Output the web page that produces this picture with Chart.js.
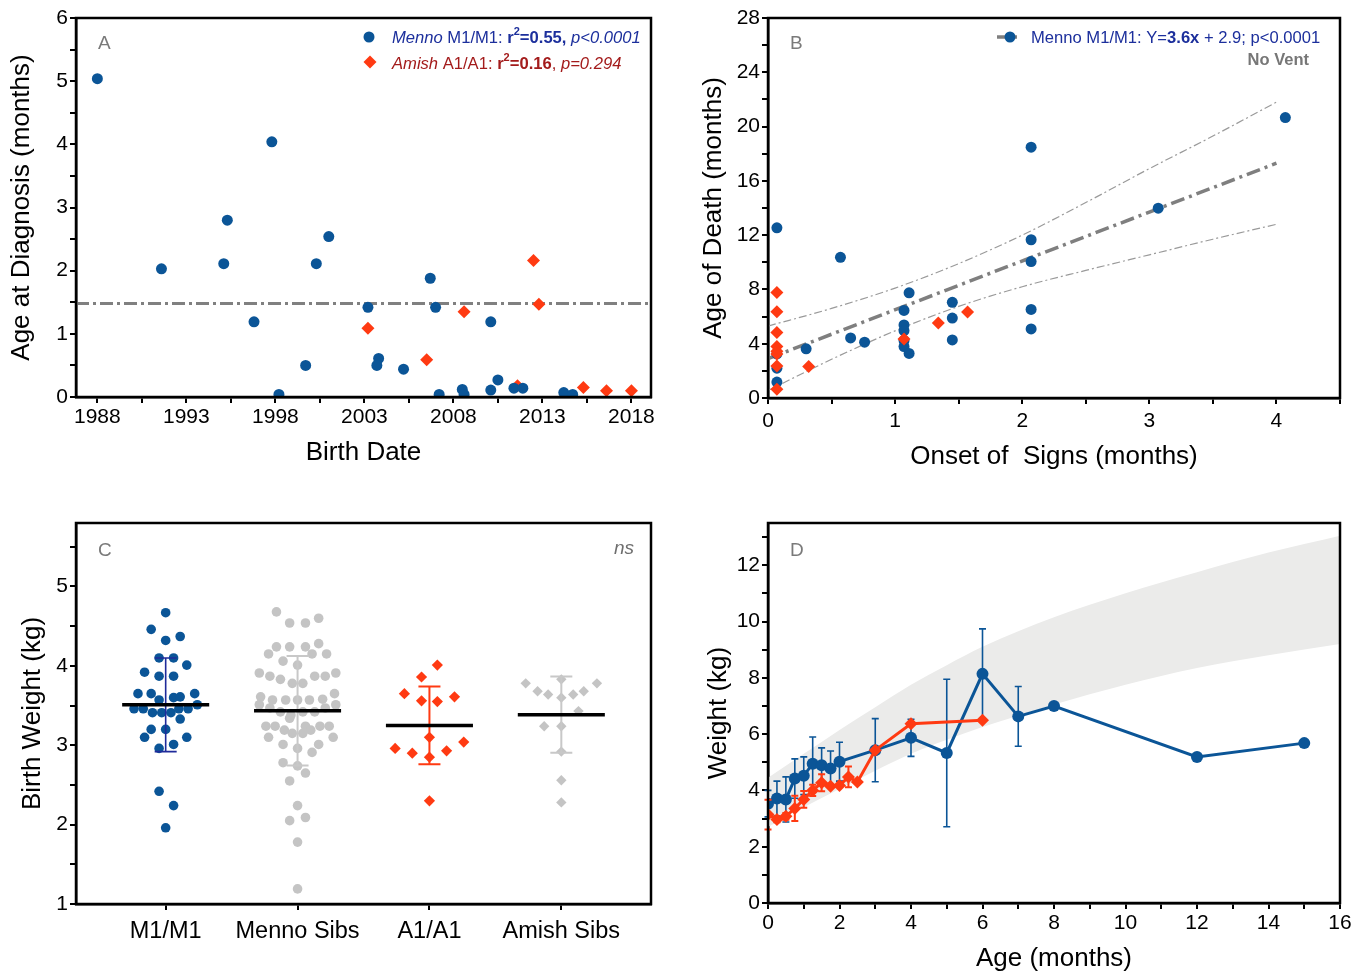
<!DOCTYPE html>
<html>
<head>
<meta charset="utf-8">
<script src="https://cdn.jsdelivr.net/npm/chart.js@4.4.1/dist/chart.umd.min.js"></script>
<style>
  html, body { margin: 0; background: #fff; }
  body { width: 1360px; height: 974px; position: relative; overflow: hidden; }
  canvas { position: absolute; }
</style>
</head>
<body>
<canvas id="chA" width="680" height="480" style="left:0;top:0"></canvas>
<canvas id="chB" width="670" height="480" style="left:690px;top:0"></canvas>
<canvas id="chC" width="680" height="484" style="left:0;top:490px"></canvas>
<canvas id="chD" width="670" height="484" style="left:690px;top:490px"></canvas>
<script>
// ---- panel A: age at diagnosis vs birth date
const aMennoYear = [1988.0, 1991.6, 1995.1, 1995.3, 1996.8, 1997.8, 1998.2, 1999.7, 2000.3, 2001.0, 2003.2, 2003.8, 2003.7,
  2005.2, 2006.7, 2007.0, 2007.2, 2008.5, 2008.6, 2010.1, 2010.1, 2010.5, 2011.4, 2011.9, 2014.2, 2014.7];
const aMennoAge = [5.04, 2.03, 2.11, 2.80, 1.19, 4.04, 0.04, 0.50, 2.11, 2.54, 1.42, 0.61, 0.50,
  0.44, 1.88, 1.42, 0.04, 0.12, 0.04, 1.19, 0.11, 0.27, 0.14, 0.14, 0.07, 0.04];
const aAmishYear = [2003.2, 2006.5, 2008.6, 2011.6, 2012.5, 2012.8, 2015.3, 2016.6, 2018.0];
const aAmishAge = [1.09, 0.59, 1.35, 0.18, 2.16, 1.47, 0.15, 0.10, 0.10];
const aCutoff = 1.48;
const aXLabels = [1988, 1993, 1998, 2003, 2008, 2013, 2018];
const aYLabels = [0, 1, 2, 3, 4, 5, 6];

// ---- panel B: age of death vs onset of signs
const bMennoOnset = [0.07, 0.07, 0.07, 0.07, 0.30, 0.57, 0.65, 0.76, 1.07, 1.07, 1.07, 1.07, 1.07, 1.11, 1.11,
  1.45, 1.45, 1.45, 2.07, 2.07, 2.07, 2.07, 2.07, 3.07, 4.07];
const bMennoDeath = [12.54, 3.25, 2.2, 1.17, 3.62, 10.37, 4.43, 4.11, 6.45, 5.38, 4.96, 4.23, 3.79, 7.75, 3.28,
  7.05, 5.89, 4.28, 18.48, 11.66, 10.05, 6.53, 5.09, 13.99, 20.66];
const bAmishOnset = [0.07, 0.07, 0.07, 0.07, 0.07, 0.07, 0.07, 0.07, 0.32, 1.07, 1.34, 1.57];
const bAmishDeath = [7.78, 6.36, 4.82, 3.79, 3.45, 3.25, 2.35, 0.64, 2.32, 4.35, 5.53, 6.33];
const bFitX = [0, 4];
const bFitY = [2.9, 17.3];
const bBandX = [0, 0.5, 1, 1.5, 2, 2.5, 3, 3.5, 4];
const bUpper = [5.3, 6.6, 8.1, 9.9, 12.0, 14.4, 16.9, 19.3, 21.8];
const bLower = [0.55, 2.85, 4.95, 6.75, 8.2, 9.4, 10.55, 11.7, 12.8];
const bXLabels = [0, 1, 2, 3, 4];
const bYLabels = [0, 4, 8, 12, 16, 20, 24, 28];

// ---- panel C: birth weight by group
const cCategories = ['M1/M1', 'Menno Sibs', 'A1/A1', 'Amish Sibs'];
const cM1Off = [0, -0.11, 0, 0.11, -0.05, 0.06, 0.16, -0.16, -0.05, 0.06, -0.21, -0.11, 0.22, -0.05, 0.06, 0.11, 0.24,
  -0.24, -0.17, -0.1, -0.03, 0.04, 0.1, 0.17, 0.11, -0.11, 0, -0.16, 0.16, -0.05, 0.06, -0.05, 0.06, 0];
const cM1Wt = [4.67, 4.46, 4.32, 4.37, 4.10, 4.10, 4.01, 3.92, 3.87, 3.87, 3.65, 3.65, 3.65, 3.57, 3.60, 3.61, 3.51,
  3.46, 3.46, 3.41, 3.41, 3.41, 3.46, 3.46, 3.33, 3.20, 3.20, 3.10, 3.10, 2.96, 3.01, 2.42, 2.24, 1.96];
const cMennoSibOff = [-0.16, -0.06, 0.06, 0.16, -0.16, -0.06, 0.06, 0.16, -0.22, 0.11, 0.22, -0.11, 0, -0.29, -0.21,
  -0.13, -0.04, 0.04, 0.13, 0.21, 0.29, -0.28, 0.28, -0.29, -0.19, -0.09, 0, 0.09, 0.19, 0.29, -0.21, -0.13, -0.05,
  0.04, 0.13, 0.21, -0.06, -0.24, -0.17, -0.1, -0.04, 0.04, 0.06, 0.1, 0.17, 0.24, -0.22, 0.27, -0.11, 0.16, 0, 0.11,
  -0.11, 0, 0.06, -0.06, 0, -0.06, 0.06, 0, 0];
const cMennoSibWt = [4.68, 4.54, 4.54, 4.60, 4.24, 4.24, 4.24, 4.28, 4.15, 4.15, 4.15, 4.06, 4.01, 3.91, 3.87,
  3.83, 3.78, 3.78, 3.87, 3.87, 3.91, 3.61, 3.65, 3.51, 3.57, 3.57, 3.57, 3.57, 3.58, 3.51, 3.47, 3.42, 3.38,
  3.42, 3.42, 3.47, 3.34, 3.24, 3.24, 3.19, 3.15, 3.15, 3.24, 3.19, 3.24, 3.24, 3.10, 3.10, 3.01, 3.01, 2.96, 2.91,
  2.78, 2.74, 2.65, 2.55, 2.24, 2.05, 2.09, 1.78, 1.19];
const cA1Off = [0.06, -0.06, -0.19, -0.06, 0.06, 0.19, 0, -0.26, -0.13, 0, 0.13, 0.26, 0];
const cA1Wt = [4.01, 3.86, 3.65, 3.56, 3.55, 3.61, 3.10, 2.96, 2.90, 2.85, 2.93, 3.04, 2.30];
const cAmishSibOff = [-0.27, -0.18, -0.1, 0, 0, 0.09, 0.17, 0.27, 0.13, -0.13, 0, 0, 0, 0];
const cAmishSibWt = [3.78, 3.68, 3.64, 3.83, 3.60, 3.64, 3.68, 3.78, 3.43, 3.24, 3.24, 2.92, 2.56, 2.28];
const cMeans = [3.51, 3.435, 3.25, 3.385];
const cSD = [0.59, 0.69, 0.49, 0.48];
const cYLabels = [1, 2, 3, 4, 5];

// ---- panel D: weight by age, with reference band
const dMennoAge = [0, 0.25, 0.5, 0.75, 1, 1.25, 1.5, 1.75, 2, 3, 4, 5, 6, 7, 8, 12, 15];
const dMennoWt = [3.53, 3.71, 3.68, 4.42, 4.52, 4.95, 4.89, 4.78, 5.02, 5.43, 5.87, 5.33, 8.14, 6.63, 7.0, 5.19, 5.68];
const dMennoSD = [0.47, 0.62, 0.8, 0.7, 0.67, 0.95, 0.62, 0.62, 0.69, 1.12, 0.66, 2.62, 1.6, 1.06, 0, 0, 0];
const dAmishAge = [0, 0.25, 0.5, 0.75, 1, 1.25, 1.5, 1.75, 2, 2.25, 2.5, 3, 4, 6];
const dAmishWt = [3.14, 2.97, 3.08, 3.36, 3.68, 4.0, 4.27, 4.15, 4.17, 4.48, 4.3, 5.43, 6.37, 6.49];
const dAmishSD = [0.53, 0.1, 0.12, 0.45, 0.3, 0.2, 0.3, 0.05, 0.05, 0.37, 0, 0, 0, 0];
const dBandAge = [0, 1, 2, 3, 4, 5, 6, 7, 8, 10, 12, 14, 16];
const dBandLow = [2.7, 3.4, 4.05, 4.7, 5.3, 5.8, 6.25, 6.65, 7.05, 7.75, 8.35, 8.8, 9.2];
const dBandHigh = [4.45, 5.3, 6.15, 6.95, 7.75, 8.45, 9.1, 9.65, 10.15, 11.0, 11.75, 12.45, 13.05];
const dXLabels = [0, 2, 4, 6, 8, 10, 12, 14, 16];
const dYLabels = [0, 2, 4, 6, 8, 10, 12];

const FONT = "'Liberation Sans', Arial, Helvetica, sans-serif";
const BLUE = '#0b5597';
const RED = '#ff3a12';
const LGRAY = '#c4c4c4';

Chart.defaults.font.family = FONT;
Chart.defaults.font.size = 21;
Chart.defaults.color = '#000';

const pts = (xs, ys) => xs.map((x, i) => ({ x, y: ys[i] }));
const jitter = (cat, offs, ys) => offs.map((o, i) => ({ x: cat + o, y: ys[i] }));

// tick positions every `step` from first label; only listed labels get text
function axis(o) {
  const ticks = [];
  for (let v = o.labels[0]; v <= o.max + 1e-9; v += o.step) ticks.push(+v.toFixed(4));
  return {
    type: 'linear', position: o.pos, min: o.min, max: o.max,
    border: { display: true, color: '#000', width: 2.5 },
    grid: { display: true, drawOnChartArea: false, drawTicks: true, tickLength: 6, color: '#000', lineWidth: 2 },
    ticks: {
      autoSkip: false, maxRotation: 0, padding: o.tickPad || 2, color: '#000',
      font: { size: o.fontSize || 21 },
      callback: o.fmt || (v => o.labels.includes(v) ? String(v) : '')
    },
    title: o.title ? { display: true, text: o.title, color: '#000', font: { size: 26 }, padding: o.titlePad } : { display: false },
    afterBuildTicks: s => { s.ticks = (o.tickList || ticks).map(v => ({ value: v })) },
    afterFit: s => { if (o.pos === 'left') s.width = o.size; else s.height = o.size }
  };
}

function baseOptions(pad, scales) {
  return {
    responsive: false, animation: false, events: [],
    layout: { padding: pad },
    plugins: { legend: { display: false }, tooltip: { enabled: false } },
    scales
  };
}

function frame(chart) {
  const { ctx, chartArea: a } = chart;
  ctx.save();
  ctx.strokeStyle = '#000';
  ctx.lineWidth = 2.5;
  ctx.strokeRect(a.left, a.top, a.right - a.left, a.bottom - a.top);
  ctx.restore();
}

function panelLetter(chart, letter) {
  const { ctx, chartArea: a } = chart;
  ctx.save();
  ctx.font = '19px ' + FONT;
  ctx.fillStyle = '#7a7a7a';
  ctx.textBaseline = 'middle';
  ctx.fillText(letter, a.left + 22, a.top + (letter === 'A' || letter === 'B' ? 26 : 28));
  ctx.restore();
}

// mixed-style text; segs = [text, style] with i=italic b=bold s=superscript
function rich(ctx, x, y, segs, size, color, align) {
  const f = st => (st.includes('i') ? 'italic ' : '') + (st.includes('b') ? 'bold ' : '') +
    (st.includes('s') ? Math.round(size * 0.65) : size) + 'px ' + FONT;
  let w = 0;
  segs.forEach(([t, st]) => { ctx.font = f(st); w += ctx.measureText(t).width; });
  let cx = align === 'right' ? x - w : x;
  ctx.fillStyle = color;
  ctx.textBaseline = 'middle';
  ctx.textAlign = 'left';
  segs.forEach(([t, st]) => {
    ctx.font = f(st);
    ctx.fillText(t, cx, st.includes('s') ? y - size * 0.35 : y);
    cx += ctx.measureText(t).width;
  });
}

function marker(ctx, x, y, style, r, color) {
  ctx.fillStyle = color;
  ctx.beginPath();
  if (style === 'circle') ctx.arc(x, y, r, 0, Math.PI * 2);
  else { ctx.moveTo(x - r, y); ctx.lineTo(x, y - r); ctx.lineTo(x + r, y); ctx.lineTo(x, y + r); ctx.closePath(); }
  ctx.fill();
}

// ================= A =================
new Chart(document.getElementById('chA'), {
  type: 'scatter',
  data: {
    datasets: [
      { data: pts(aMennoYear, aMennoAge), pointStyle: 'circle', pointRadius: 5.5, pointBorderWidth: 0, backgroundColor: BLUE },
      { data: pts(aAmishYear, aAmishAge), pointStyle: 'rectRot', pointRadius: 6.5, pointBorderWidth: 0, backgroundColor: RED }
    ]
  },
  options: baseOptions({ left: 0, right: 29, top: 18, bottom: 0 }, {
    x: axis({ pos: 'bottom', min: 1986.8, max: 2019.1, step: 2.5, labels: aXLabels, size: 83,
      title: 'Birth Date', titlePad: { top: 0, bottom: 12 } }),
    y: axis({ pos: 'left', min: 0, max: 6, step: 0.5, labels: aYLabels, size: 76,
      title: 'Age at Diagnosis (months)', titlePad: { top: 6, bottom: 0 } })
  }),
  plugins: [{
    id: 'panelA',
    beforeDatasetsDraw(chart) {
      const { ctx, chartArea: a, scales } = chart;
      const y = scales.y.getPixelForValue(aCutoff);
      ctx.save();
      ctx.strokeStyle = '#808080';
      ctx.lineWidth = 3;
      ctx.setLineDash([13, 4, 3, 4]);
      ctx.beginPath(); ctx.moveTo(a.left, y); ctx.lineTo(a.right, y); ctx.stroke();
      ctx.restore();
    },
    afterDraw(chart) {
      const ctx = chart.ctx;
      frame(chart);
      panelLetter(chart, 'A');
      ctx.save();
      marker(ctx, 369, 37, 'circle', 5.5, BLUE);
      marker(ctx, 370, 62, 'diamond', 6.5, RED);
      rich(ctx, 392, 38, [['Menno', 'i'], [' M1/M1: ', ''], ['r', 'b'], ['2', 'bs'], ['=0.55,', 'b'], [' p<0.0001', 'i']], 16.6, '#1c2f9c');
      rich(ctx, 392, 64, [['Amish', 'i'], [' A1/A1: ', ''], ['r', 'b'], ['2', 'bs'], ['=0.16', 'b'], [', ', ''], ['p=0.294', 'i']], 16.6, '#a31b1b');
      ctx.restore();
    }
  }]
});

// ================= B =================
const thinDash = { showLine: true, borderColor: '#9a9a9a', borderWidth: 1.2, borderDash: [8, 3, 2, 3], pointRadius: 0, tension: 0.4, cubicInterpolationMode: 'monotone', order: 5 };
new Chart(document.getElementById('chB'), {
  type: 'scatter',
  data: {
    datasets: [
      { data: pts(bMennoOnset, bMennoDeath), pointStyle: 'circle', pointRadius: 5.5, pointBorderWidth: 0, backgroundColor: BLUE, order: 2 },
      { data: pts(bAmishOnset, bAmishDeath), pointStyle: 'rectRot', pointRadius: 6.5, pointBorderWidth: 0, backgroundColor: RED, order: 1 },
      { data: pts(bFitX, bFitY), showLine: true, borderColor: '#7f7f7f', borderWidth: 3.5, borderDash: [14, 5, 3, 5], pointRadius: 0, order: 4 },
      Object.assign({ data: pts(bBandX, bUpper) }, thinDash),
      Object.assign({ data: pts(bBandX, bLower) }, thinDash)
    ]
  },
  options: baseOptions({ left: 0, right: 20, top: 18, bottom: 0 }, {
    x: axis({ pos: 'bottom', min: 0, max: 4.5, step: 0.5, labels: bXLabels, size: 82, tickPad: 5,
      title: 'Onset of  Signs (months)', titlePad: { top: 0, bottom: 8 } }),
    y: axis({ pos: 'left', min: 0, max: 28, step: 2, labels: bYLabels, size: 78,
      title: 'Age of Death (months)', titlePad: { top: 8, bottom: 0 } })
  }),
  plugins: [{
    id: 'panelB',
    afterDraw(chart) {
      const ctx = chart.ctx;
      frame(chart);
      panelLetter(chart, 'B');
      ctx.save();
      ctx.strokeStyle = '#7f7f7f';
      ctx.lineWidth = 3.5;
      ctx.beginPath(); ctx.moveTo(307, 37); ctx.lineTo(327, 37); ctx.stroke();
      marker(ctx, 320, 37, 'circle', 5.5, BLUE);
      rich(ctx, 341, 38, [['Menno M1/M1: Y=', ''], ['3.6x', 'b'], [' + 2.9; p<0.0001', '']], 16.6, '#1c2f9c');
      rich(ctx, 619, 60, [['No Vent', 'b']], 16.5, '#777777', 'right');
      ctx.restore();
    }
  }]
});

// ================= C =================
const cColors = [BLUE, LGRAY, RED, LGRAY];
const cBarColors = ['#1f2a9a', '#c8c8c8', RED, '#c8c8c8'];
new Chart(document.getElementById('chC'), {
  type: 'scatter',
  data: {
    datasets: [
      { data: jitter(1, cM1Off, cM1Wt), pointStyle: 'circle', pointRadius: 4.8, pointBorderWidth: 0, backgroundColor: cColors[0] },
      { data: jitter(2, cMennoSibOff, cMennoSibWt), pointStyle: 'circle', pointRadius: 4.8, pointBorderWidth: 0, backgroundColor: cColors[1] },
      { data: jitter(3, cA1Off, cA1Wt), pointStyle: 'rectRot', pointRadius: 5.6, pointBorderWidth: 0, backgroundColor: cColors[2] },
      { data: jitter(4, cAmishSibOff, cAmishSibWt), pointStyle: 'rectRot', pointRadius: 5.2, pointBorderWidth: 0, backgroundColor: cColors[3] }
    ]
  },
  options: baseOptions({ left: 0, right: 29, top: 33, bottom: 0 }, {
    x: axis({ pos: 'bottom', min: 0.32, max: 4.68, step: 1, labels: [1, 2, 3, 4], tickList: [1, 2, 3, 4], size: 70,
      fontSize: 23.5, tickPad: 7, fmt: v => cCategories[v - 1] || '' }),
    y: axis({ pos: 'left', min: 1, max: 5.8, step: 0.5, labels: cYLabels, size: 76,
      title: 'Birth Weight (kg)', titlePad: { top: 17, bottom: 0 } })
  }),
  plugins: [{
    id: 'panelC',
    afterDatasetsDraw(chart) {
      const { ctx, scales: { x, y } } = chart;
      ctx.save();
      cMeans.forEach((m, i) => {
        const cx = x.getPixelForValue(i + 1);
        const top = y.getPixelForValue(m + cSD[i]);
        const bot = y.getPixelForValue(m - cSD[i]);
        ctx.strokeStyle = cBarColors[i];
        ctx.lineWidth = i === 0 ? 1.6 : 2;
        ctx.beginPath();
        ctx.moveTo(cx, top); ctx.lineTo(cx, bot);
        ctx.moveTo(cx - 11, top); ctx.lineTo(cx + 11, top);
        ctx.moveTo(cx - 11, bot); ctx.lineTo(cx + 11, bot);
        ctx.stroke();
        const my = y.getPixelForValue(m);
        ctx.strokeStyle = '#000';
        ctx.lineWidth = 3.5;
        ctx.beginPath();
        ctx.moveTo(x.getPixelForValue(i + 1 - 0.33), my);
        ctx.lineTo(x.getPixelForValue(i + 1 + 0.33), my);
        ctx.stroke();
      });
      ctx.restore();
    },
    afterDraw(chart) {
      const ctx = chart.ctx;
      frame(chart);
      panelLetter(chart, 'C');
      ctx.save();
      ctx.font = 'italic 19px ' + FONT;
      ctx.fillStyle = '#6e6e6e';
      ctx.textAlign = 'right';
      ctx.textBaseline = 'middle';
      ctx.fillText('ns', 634, 59);
      ctx.restore();
    }
  }]
});

// ================= D =================
const dErr = { 2: { sd: dMennoSD, color: BLUE, w: 1.6 }, 3: { sd: dAmishSD, color: RED, w: 2 } };
new Chart(document.getElementById('chD'), {
  type: 'scatter',
  data: {
    datasets: [
      { data: pts(dBandAge, dBandLow), showLine: true, borderWidth: 0, borderColor: 'rgba(0,0,0,0)', pointRadius: 0, fill: false,
        tension: 0.4, cubicInterpolationMode: 'monotone', order: 4 },
      { data: pts(dBandAge, dBandHigh), showLine: true, borderWidth: 0, borderColor: 'rgba(0,0,0,0)', pointRadius: 0, fill: '-1',
        backgroundColor: '#ebebea', tension: 0.4, cubicInterpolationMode: 'monotone', order: 3 },
      { data: pts(dMennoAge, dMennoWt), showLine: true, borderColor: BLUE, borderWidth: 3, pointStyle: 'circle', pointRadius: 6,
        pointBorderWidth: 0, backgroundColor: BLUE, order: 1 },
      { data: pts(dAmishAge, dAmishWt), showLine: true, borderColor: RED, borderWidth: 3, pointStyle: 'rectRot', pointRadius: 6.5,
        pointBorderWidth: 0, backgroundColor: RED, order: 0 }
    ]
  },
  options: baseOptions({ left: 0, right: 20, top: 33, bottom: 0 }, {
    x: axis({ pos: 'bottom', min: 0, max: 16, step: 1, labels: dXLabels, size: 71,
      title: 'Age (months)', titlePad: { top: 0, bottom: 0 } }),
    y: axis({ pos: 'left', min: 0, max: 13.5, step: 1, labels: dYLabels, size: 78,
      title: 'Weight (kg)', titlePad: { top: 13, bottom: 0 } })
  }),
  plugins: [{
    id: 'panelD',
    beforeDatasetDraw(chart, args) {
      const e = dErr[args.index];
      if (!e) return;
      const { ctx, scales: { x, y } } = chart;
      const ds = chart.data.datasets[args.index].data;
      ctx.save();
      ctx.strokeStyle = e.color;
      ctx.lineWidth = e.w;
      ds.forEach((p, i) => {
        if (!e.sd[i]) return;
        const cx = x.getPixelForValue(p.x);
        const t = y.getPixelForValue(p.y + e.sd[i]);
        const b = y.getPixelForValue(p.y - e.sd[i]);
        ctx.beginPath();
        ctx.moveTo(cx, t); ctx.lineTo(cx, b);
        ctx.moveTo(cx - 3.5, t); ctx.lineTo(cx + 3.5, t);
        ctx.moveTo(cx - 3.5, b); ctx.lineTo(cx + 3.5, b);
        ctx.stroke();
      });
      ctx.restore();
    },
    afterDraw(chart) {
      frame(chart);
      panelLetter(chart, 'D');
    }
  }]
});
</script>
</body>
</html>
